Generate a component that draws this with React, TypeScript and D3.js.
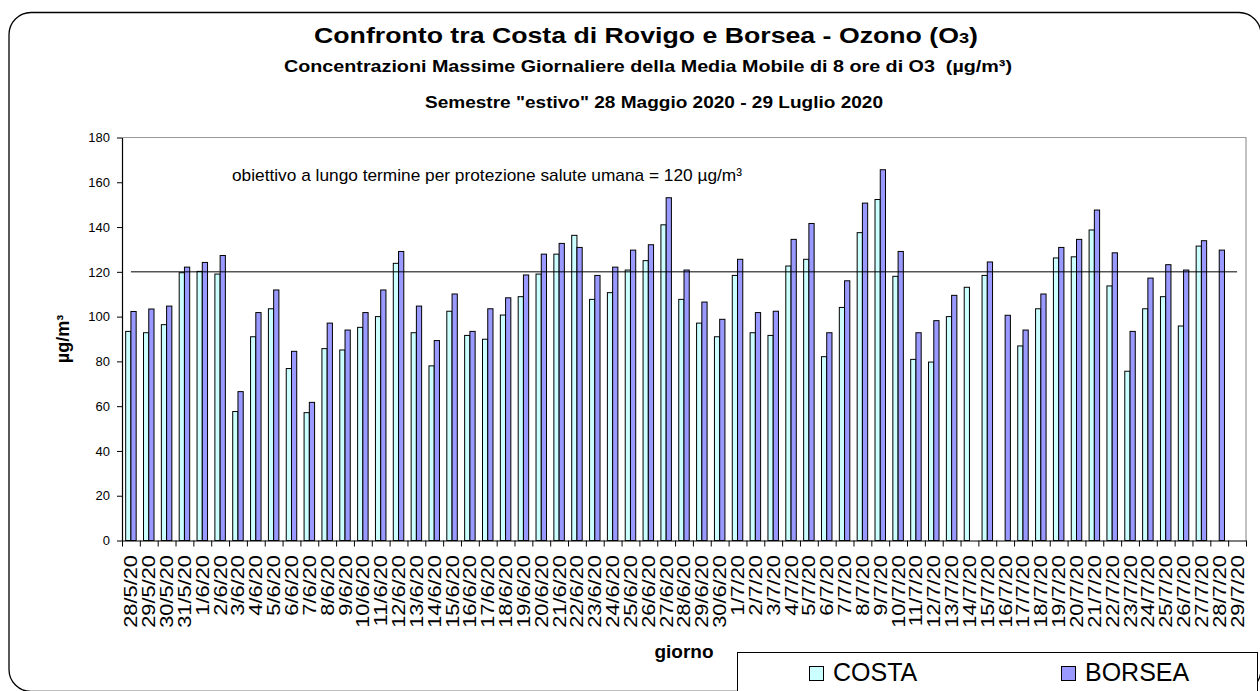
import { useEffect, useRef } from 'react';
import * as d3 from 'd3';

// giorni 28/5/20 - 29/7/20
const days = [
    '28/5/20', '29/5/20', '30/5/20', '31/5/20',
    '1/6/20', '2/6/20', '3/6/20', '4/6/20', '5/6/20', '6/6/20', '7/6/20', '8/6/20', '9/6/20', '10/6/20',
    '11/6/20', '12/6/20', '13/6/20', '14/6/20', '15/6/20', '16/6/20', '17/6/20', '18/6/20', '19/6/20', '20/6/20',
    '21/6/20', '22/6/20', '23/6/20', '24/6/20', '25/6/20', '26/6/20', '27/6/20', '28/6/20', '29/6/20', '30/6/20',
    '1/7/20', '2/7/20', '3/7/20', '4/7/20', '5/7/20', '6/7/20', '7/7/20', '8/7/20', '9/7/20', '10/7/20',
    '11/7/20', '12/7/20', '13/7/20', '14/7/20', '15/7/20', '16/7/20', '17/7/20', '18/7/20', '19/7/20', '20/7/20',
    '21/7/20', '22/7/20', '23/7/20', '24/7/20', '25/7/20', '26/7/20', '27/7/20', '28/7/20', '29/7/20'
];

const costa: (number | null)[] = [
    93.4, 92.8, 96.4, 119.6,
    120.2, 119.0, 57.6, 91.0, 103.5, 76.8, 57.1, 85.7, 85.1, 95.2,
    100.0, 123.8, 92.8, 78.0, 102.4, 91.6, 89.9, 100.7, 108.9, 119.0,
    127.9, 136.3, 107.7, 110.7, 120.8, 125.0, 141.0, 107.7, 97.1, 91.0,
    118.4, 92.8, 91.6, 122.6, 125.6, 82.1, 104.1, 137.5, 152.3, 118.0,
    80.9, 79.7, 100.0, 113.1, 118.4, null, 86.9, 103.5, 126.2, 126.7,
    138.7, 113.7, 75.6, 103.5, 108.9, 95.8, 131.5, null, null
];

const borsea: (number | null)[] = [
    102.3, 103.4, 104.7, 122.1,
    124.2, 127.3, 66.5, 101.8, 111.9, 84.5, 61.7, 97.1, 94.0, 101.8,
    111.9, 129.1, 104.7, 89.3, 110.1, 93.4, 103.5, 108.4, 118.6, 127.9,
    132.7, 130.9, 118.4, 122.1, 129.7, 132.1, 153.1, 120.8, 106.5, 98.8,
    125.6, 101.8, 102.4, 134.5, 141.6, 92.8, 116.0, 150.7, 165.6, 129.1,
    92.8, 98.2, 109.5, null, 124.4, 100.6, 94.0, 110.1, 130.9, 134.5,
    147.6, 128.5, 93.4, 117.2, 123.2, 120.8, 133.9, 129.7, null
];

const seriesNames = ['COSTA', 'BORSEA'];
const seriesColors = ['#ccffff', '#9999ff'];
const yTicks = [0, 20, 40, 60, 80, 100, 120, 140, 160, 180];
const LIMIT = 120; // obiettivo a lungo termine

const FONT = '"Liberation Sans", Arial, Helvetica, sans-serif';

function drawChart(el: SVGSVGElement) {
    const svg = d3.select(el);
    svg.selectAll('*').remove();

    const plot = { left: 122, right: 1246, top: 137.5, bottom: 540.5 };
    const values = [costa, borsea];

    // bordo esterno arrotondato
    svg.append('rect')
        .attr('x', 9).attr('y', 12.5)
        .attr('width', 1252).attr('height', 679)
        .attr('rx', 22)
        .attr('fill', '#fff')
        .attr('stroke', '#000')
        .attr('stroke-width', 1.3);

    const x0 = d3.scaleBand<string>().domain(days).range([plot.left, plot.right]).padding(0);
    const x1 = d3.scaleBand<string>().domain(seriesNames).range([0, x0.bandwidth()])
        .paddingInner(0).paddingOuter(0.7);
    const y = d3.scaleLinear().domain([0, 180]).range([plot.bottom, plot.top]);
    const xb = d3.scaleLinear().domain([0, days.length]).range([plot.left, plot.right]);

    // cornice area del grafico (alto e destra)
    svg.append('path')
        .attr('d', `M${plot.left},${plot.top}H${plot.right}V${plot.bottom}`)
        .attr('fill', 'none')
        .attr('stroke', '#999')
        .attr('stroke-width', 1.2);

    // barre
    seriesNames.forEach((name, si) => {
        const data = days
            .map((d, i) => ({ day: d, v: values[si][i] }))
            .filter(d => d.v !== null) as { day: string, v: number }[];
        svg.append('g')
            .selectAll('rect')
            .data(data)
            .enter()
            .append('rect')
            .attr('x', d => (x0(d.day) as number) + (x1(name) as number))
            .attr('y', d => y(d.v))
            .attr('width', x1.bandwidth())
            .attr('height', d => y(0) - y(d.v))
            .attr('fill', seriesColors[si])
            .attr('stroke', '#000')
            .attr('stroke-width', 1);
    });

    // linea limite 120
    const limitLine = d3.line<string>()
        .x(d => (x0(d) as number) + x0.bandwidth() / 2)
        .y(() => y(LIMIT));
    svg.append('path')
        .attr('d', limitLine([days[0], days[days.length - 1]]))
        .attr('fill', 'none')
        .attr('stroke', '#000')
        .attr('stroke-width', 1);

    // asse y
    svg.append('g')
        .attr('transform', `translate(${plot.left},0)`)
        .call(d3.axisLeft(y).tickValues(yTicks).tickSize(5).tickSizeOuter(0).tickPadding(7))
        .call(g => {
            g.select('.domain').attr('stroke', '#000').attr('stroke-width', 1.2);
            g.selectAll('.tick line').attr('stroke', '#000');
            g.selectAll('text').attr('font-size', 13).attr('font-family', FONT).attr('fill', '#000');
        });

    // asse x
    svg.append('g')
        .attr('transform', `translate(0,${plot.bottom})`)
        .call(d3.axisBottom(xb).tickValues(d3.range(days.length + 1)).tickSize(6).tickSizeOuter(0).tickFormat(() => ''))
        .call(g => {
            g.select('.domain').attr('stroke', '#000').attr('stroke-width', 1.2);
            g.selectAll('.tick line').attr('stroke', '#000');
        });

    svg.append('g')
        .selectAll('text')
        .data(days)
        .enter()
        .append('text')
        .attr('transform', d => `translate(${(x0(d) as number) + x0.bandwidth() / 2},555) rotate(-90) scale(1.18,1)`)
        .attr('text-anchor', 'end')
        .attr('dy', '0.35em')
        .attr('font-family', FONT)
        .attr('font-size', 18.5)
        .text(d => d);

    // titoli
    const title = svg.append('text')
        .attr('x', 314).attr('y', 43)
        .attr('font-family', FONT).attr('font-weight', 'bold').attr('font-size', 22)
        .attr('textLength', 664).attr('lengthAdjust', 'spacingAndGlyphs');
    title.append('tspan').text('Confronto tra Costa di Rovigo e Borsea - Ozono (O');
    title.append('tspan').attr('font-size', 15).text('3');
    title.append('tspan').text(')');

    svg.append('text')
        .attr('x', 284).attr('y', 72)
        .attr('font-family', FONT).attr('font-weight', 'bold').attr('font-size', 17)
        .attr('textLength', 728).attr('lengthAdjust', 'spacingAndGlyphs')
        .text('Concentrazioni Massime Giornaliere della Media Mobile di 8 ore di O3\u00A0 (µg/m³)');

    svg.append('text')
        .attr('x', 425).attr('y', 108)
        .attr('font-family', FONT).attr('font-weight', 'bold').attr('font-size', 17)
        .attr('textLength', 458).attr('lengthAdjust', 'spacingAndGlyphs')
        .text('Semestre "estivo" 28 Maggio 2020 - 29 Luglio 2020');

    // annotazione
    svg.append('text')
        .attr('x', 232).attr('y', 181)
        .attr('font-family', FONT).attr('font-size', 17)
        .attr('textLength', 510).attr('lengthAdjust', 'spacingAndGlyphs')
        .text('obiettivo a lungo termine per protezione salute umana = 120 µg/m³');

    // titoli assi
    svg.append('text')
        .attr('transform', `translate(69,${(plot.top + plot.bottom) / 2}) rotate(-90)`)
        .attr('text-anchor', 'middle')
        .attr('font-family', FONT).attr('font-weight', 'bold').attr('font-size', 18)
        .text('µg/m³');

    svg.append('text')
        .attr('x', (plot.left + plot.right) / 2).attr('y', 658)
        .attr('text-anchor', 'middle')
        .attr('font-family', FONT).attr('font-weight', 'bold').attr('font-size', 19)
        .text('giorno');

    // legenda
    svg.append('rect')
        .attr('x', 737.5).attr('y', 652.5)
        .attr('width', 520).attr('height', 60)
        .attr('fill', '#fff').attr('stroke', '#000').attr('stroke-width', 1);

    const legendX = [809, 1061];
    seriesNames.forEach((name, si) => {
        svg.append('rect')
            .attr('x', legendX[si] + 0.5).attr('y', 666.5)
            .attr('width', 14).attr('height', 14)
            .attr('fill', seriesColors[si]).attr('stroke', '#000').attr('stroke-width', 1);
        svg.append('text')
            .attr('x', legendX[si] + 24).attr('y', 681)
            .attr('font-family', FONT).attr('font-size', 25)
            .text(name);
    });
}

export default function App() {
    const ref = useRef<SVGSVGElement>(null);

    useEffect(() => {
        if (ref.current) drawChart(ref.current);
    }, []);

    return (
        <svg
            ref={ref}
            width={1260}
            height={691}
            style={{ position: 'absolute', left: 0, top: 0, display: 'block', background: '#fff' }}
        />
    );
}
